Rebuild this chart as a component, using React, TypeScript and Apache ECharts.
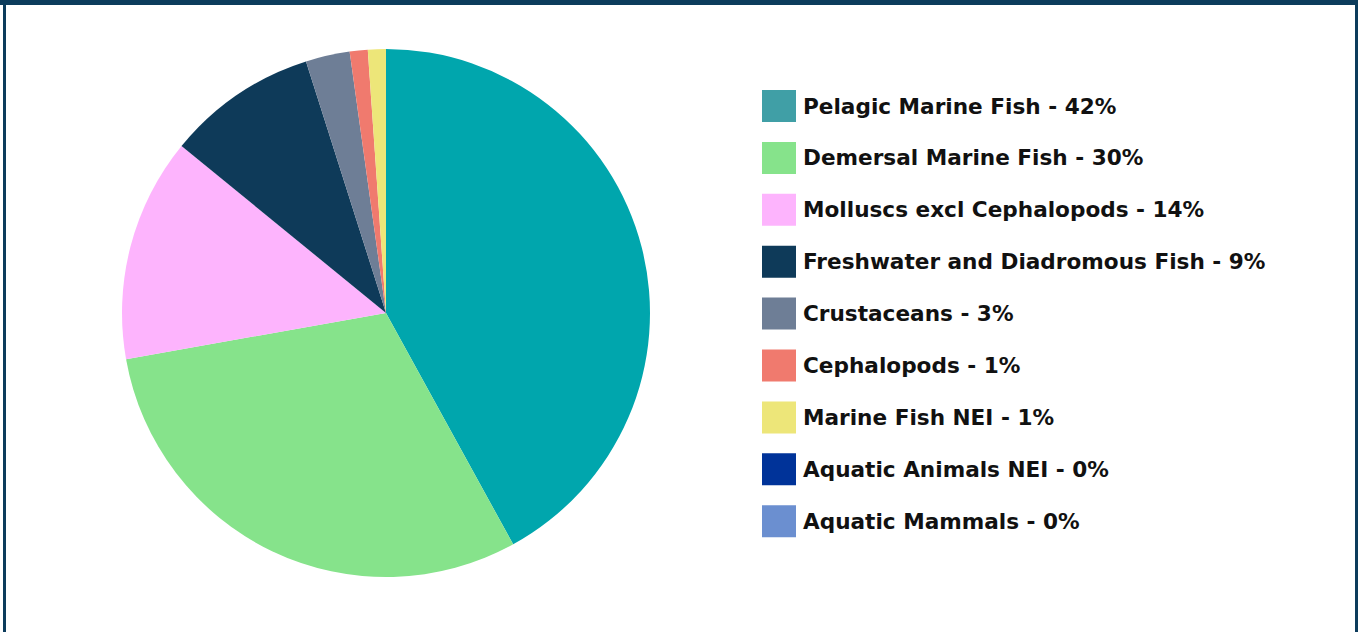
import React, { useEffect, useRef } from "react";
import * as echarts from "echarts";

const categories = [
  "Pelagic Marine Fish",
  "Demersal Marine Fish",
  "Molluscs excl Cephalopods",
  "Freshwater and Diadromous Fish",
  "Crustaceans",
  "Cephalopods",
  "Marine Fish NEI",
  "Aquatic Animals NEI",
  "Aquatic Mammals",
];
const values = [42.0, 30.2, 13.7, 9.2, 2.7, 1.1, 1.1, 0, 0];
const percentLabels = ["42%", "30%", "14%", "9%", "3%", "1%", "1%", "0%", "0%"];
const sliceColors = ["#00a6ad", "#86e38b", "#fdb4fd", "#0e3a59", "#6e7e96", "#f07a6e", "#ede679", "#003399", "#6b8fd0"];
const legendColors = ["#409fa6", "#86e38b", "#fdb4fd", "#0e3a59", "#6e7e96", "#f07a6e", "#ede679", "#003399", "#6b8fd0"];

export default function App() {
  const ref = useRef<HTMLDivElement>(null);
  useEffect(() => {
    if (!ref.current) return;
    const chart = echarts.init(ref.current, null, { renderer: "svg" });
    const labelMap: Record<string, string> = {};
    categories.forEach((c, i) => (labelMap[c] = `${c} - ${percentLabels[i]}`));
    chart.setOption({
      animation: false,
      backgroundColor: "#ffffff",
      legend: {
        orient: "vertical",
        left: 762,
        top: 90,
        padding: 0,
        itemWidth: 34,
        itemHeight: 32,
        itemGap: 19.9,
        icon: "rect",
        selectedMode: false,
        data: categories.map((c, i) => ({ name: c, itemStyle: { color: legendColors[i] } })),
        formatter: (name: string) => labelMap[name],
        textStyle: { fontSize: 21.6, fontWeight: "bold", color: "#111111", fontFamily: "DejaVu Sans", padding: [0, 0, 0, 2] },
      },
      graphic: [
        { type: "rect", shape: { x: 0, y: 0, width: 1358, height: 5 }, style: { fill: "#0c3c5c" } },
        { type: "rect", shape: { x: 3, y: 0, width: 3, height: 632 }, style: { fill: "#0c3c5c" } },
        { type: "rect", shape: { x: 1355, y: 0, width: 3, height: 632 }, style: { fill: "#0c3c5c" } },
      ],
      series: [
        {
          type: "pie",
          center: [386, 313],
          radius: [0, 264],
          startAngle: 90,
          clockwise: true,
          label: { show: false },
          labelLine: { show: false },
          emphasis: { disabled: true },
          itemStyle: { borderWidth: 0 },
          data: categories.map((c, i) => ({ name: c, value: values[i], itemStyle: { color: sliceColors[i] } })),
        },
      ],
    });
    return () => chart.dispose();
  }, []);
  return <div ref={ref} style={{ position: "absolute", left: 0, top: 0, width: 1358, height: 632 }} />;
}
